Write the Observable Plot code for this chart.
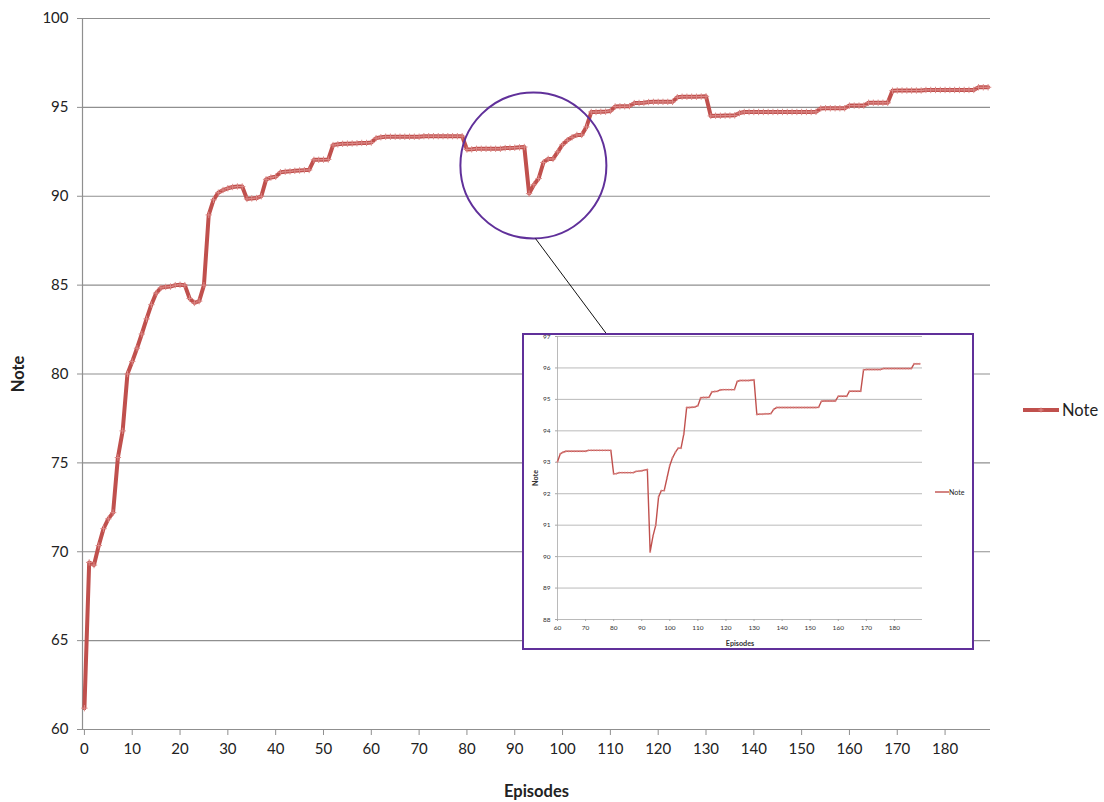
<!DOCTYPE html>
<html><head><meta charset="utf-8">
<script src="https://cdn.jsdelivr.net/npm/d3@7"></script>
<script src="https://cdn.jsdelivr.net/npm/@observablehq/plot@0.6"></script>
<style>
body{margin:0;background:#fff;font-family:Lato,sans-serif;}
#wrap{position:relative;width:1104px;height:802px;overflow:hidden;background:#fff;}
#main{position:absolute;left:0;top:0;}
#inset{position:absolute;left:522px;top:333px;width:452px;height:317px;border:2px solid #60309a;box-sizing:border-box;background:#fff;overflow:hidden;}
#inset .plot{position:absolute;left:0;top:0;}
[aria-label="y-axis label"],[aria-label="x-axis label"]{font-weight:bold;}
#main [aria-label="y-axis label"],#main [aria-label="x-axis label"]{font-size:16.5px;}
#inset [aria-label="y-axis label"],#inset [aria-label="x-axis label"]{font-size:7.2px;}
.legend{position:absolute;display:flex;align-items:center;color:#222;font-family:Lato,sans-serif;}
</style></head><body>
<div id="wrap"><div id="main"></div><div id="inset"></div><div id="legend" class="legend"></div></div>
<script>
// ---- data ----
const seriesName = "Note";
const xLabel = "Episodes";
const notes = [
  61.2, 69.4, 69.25, 70.35, 71.3, 71.85, 72.2, 75.3, 76.8, 80.0,
  80.7, 81.45, 82.25, 83.1, 83.9, 84.55, 84.85, 84.9, 84.92, 85.0,
  85.02, 85.0, 84.25, 84.0, 84.1, 85.0, 88.95, 89.8, 90.2, 90.35,
  90.45, 90.52, 90.55, 90.55, 89.85, 89.88, 89.9, 90.0, 90.95, 91.05,
  91.1, 91.35, 91.38, 91.4, 91.43, 91.45, 91.47, 91.48, 92.05, 92.05,
  92.06, 92.07, 92.88, 92.92, 92.95, 92.96, 92.97, 92.98, 93.0, 93.0,
  93.02, 93.27, 93.32, 93.35, 93.35, 93.35, 93.35, 93.35, 93.35, 93.35,
  93.35, 93.38, 93.38, 93.38, 93.38, 93.38, 93.38, 93.38, 93.38, 93.38,
  92.63, 92.64, 92.67, 92.67, 92.67, 92.67, 92.67, 92.67, 92.71, 92.72,
  92.73, 92.75, 92.77, 90.15, 90.65, 91.0, 91.9, 92.1, 92.1, 92.5,
  92.9, 93.15, 93.32, 93.45, 93.45, 93.9, 94.74, 94.74, 94.75, 94.76,
  94.8, 95.05, 95.06, 95.06, 95.07, 95.24, 95.25, 95.26, 95.3, 95.31,
  95.31, 95.31, 95.31, 95.31, 95.57, 95.6, 95.6, 95.6, 95.6, 95.61,
  95.62, 94.52, 94.53, 94.53, 94.54, 94.54, 94.55, 94.68, 94.74, 94.74,
  94.74, 94.74, 94.74, 94.74, 94.74, 94.74, 94.74, 94.74, 94.74, 94.74,
  94.74, 94.74, 94.74, 94.75, 94.94, 94.95, 94.95, 94.95, 94.95, 94.95,
  95.1, 95.1, 95.1, 95.1, 95.26, 95.26, 95.26, 95.26, 95.26, 95.94,
  95.95, 95.95, 95.95, 95.95, 95.95, 95.95, 95.98, 95.98, 95.98, 95.98,
  95.98, 95.98, 95.98, 95.98, 95.98, 95.98, 95.98, 96.13, 96.13, 96.13
];
const episodes = notes.map((_, i) => i);
const xTicks = [0, 10, 20, 30, 40, 50, 60, 70, 80, 90, 100, 110, 120, 130, 140, 150, 160, 170, 180];
const yTicks = [60, 65, 70, 75, 80, 85, 90, 95, 100];
const insetXTicks = [60, 70, 80, 90, 100, 110, 120, 130, 140, 150, 160, 170, 180];
const insetYTicks = [88, 89, 90, 91, 92, 93, 94, 95, 96, 97];
const insetFrom = 60;
// highlight annotation (in data units)
const zoomCircle = [{episode: 93.9, note: 91.73}];
const connector = [{x1: 94.34, y1: 87.62, x2: 109.6, y2: 82.11}];

// ---- styles ----
const lineColor = "#c0504d";
const gridColor = "#8f8f8f";
const purple = "#60309a";

const data = notes.map((v, i) => ({episode: episodes[i], note: v}));
const insetData = data.filter(d => d.episode >= insetFrom);

const main = Plot.plot({
  width: 1104, height: 802,
  marginLeft: 82, marginRight: 114, marginTop: 18, marginBottom: 73,
  style: {fontFamily: "Lato, sans-serif", background: "transparent", overflow: "visible"},
  x: {domain: [-0.4, 189.5]},
  y: {domain: [60, 100]},
  marks: [
    Plot.gridY(yTicks, {stroke: gridColor, strokeOpacity: 1, strokeWidth: 1.2}),
    Plot.ruleX([-0.4], {stroke: gridColor, strokeWidth: 1.2}),
    Plot.axisY(yTicks, {tickSize: 5, tickPadding: 9, fontSize: 15, stroke: gridColor, fill: "#222",
      label: seriesName, labelAnchor: "center", labelArrow: "none", labelOffset: 70}),
    Plot.axisX(xTicks, {tickSize: 6, tickPadding: 8, fontSize: 15, stroke: gridColor, fill: "#222",
      label: xLabel, labelAnchor: "center", labelArrow: "none", labelOffset: 67}),
    Plot.line(data, {x: "episode", y: "note", stroke: lineColor, strokeWidth: 4, strokeLinejoin: "round"}),
    Plot.dot(data, {x: "episode", y: "note", symbol: "plus", r: 2.2, stroke: "#dc8a88", strokeWidth: 1}),
    Plot.dot(zoomCircle, {x: "episode", y: "note", r: 73, stroke: purple, strokeWidth: 2, fill: "none", clip: false}),
    Plot.link(connector, {x1: "x1", y1: "y1", x2: "x2", y2: "y2", stroke: "#111", strokeWidth: 1, clip: false})
  ]
});
document.getElementById("main").appendChild(main);

// main legend
const lg = document.getElementById("legend");
lg.style.left = "1022px"; lg.style.top = "400px"; lg.style.fontSize = "16.5px";
lg.innerHTML = `<svg width="38" height="20"><line x1="1" y1="10" x2="37" y2="10" stroke="${lineColor}" stroke-width="4"/><path d="M19 7.5V12.5M16.5 10H21.5" stroke="#dc8a88" stroke-width="1"/></svg><span style="margin-left:2px">${seriesName}</span>`;

// inset chart
const inset = Plot.plot({
  width: 448, height: 313,
  marginLeft: 33, marginRight: 50, marginTop: 1, marginBottom: 29,
  style: {fontFamily: "Lato, sans-serif", background: "transparent", overflow: "visible"},
  x: {domain: [60, 190]},
  y: {domain: [88, 97]},
  marks: [
    Plot.gridY(insetYTicks, {stroke: "#a8a8a8", strokeOpacity: 1, strokeWidth: 0.8}),
    Plot.ruleX([60], {stroke: "#a8a8a8", strokeWidth: 0.8}),
    Plot.axisY(insetYTicks, {tickSize: 2, tickPadding: 5, fontSize: 6.5, stroke: "#a8a8a8", fill: "#333",
      label: seriesName, labelAnchor: "center", labelArrow: "none", labelOffset: 25}),
    Plot.axisX(insetXTicks, {tickSize: 2, tickPadding: 4, fontSize: 6.5, stroke: "#a8a8a8", fill: "#333",
      label: xLabel, labelAnchor: "center", labelArrow: "none", labelOffset: 26}),
    Plot.line(insetData, {x: "episode", y: "note", stroke: lineColor, strokeWidth: 1.4}),
    Plot.dot(insetData, {x: "episode", y: "note", symbol: "plus", r: 0.8, stroke: "#dc8a88", strokeWidth: 0.6})
  ]
});
inset.classList.add("plot");
const insetBox = document.getElementById("inset");
insetBox.appendChild(inset);
const ilg = document.createElement("div");
ilg.className = "legend";
ilg.style.left = "411px"; ilg.style.top = "152px"; ilg.style.fontSize = "7px";
ilg.innerHTML = `<svg width="14" height="10"><line x1="0" y1="5" x2="14" y2="5" stroke="${lineColor}" stroke-width="1.4"/></svg><span>${seriesName}</span>`;
insetBox.appendChild(ilg);
</script>
</body></html>
